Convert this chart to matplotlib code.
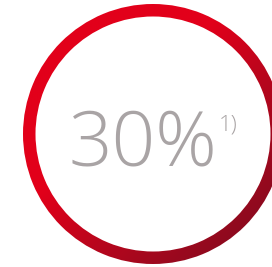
import numpy as np
import matplotlib
matplotlib.use("Agg")
import matplotlib.pyplot as plt
from matplotlib.patches import Annulus
from matplotlib.colors import LinearSegmentedColormap

# --- Data ---
value = [30]
value_label = ["30%"]
footnote = ["1)"]

# --- Style ---
W, H = 272, 267
CENTER = (153, 134)
R_OUT = 130
WIDTH = 12.5
RED_LIGHT = "#e2001a"
RED_DARK = "#8e0a1f"
TEXT_GREY = "#a9a4a5"

fig = plt.figure(figsize=(W / 100, H / 100), dpi=100)
ax = fig.add_axes([0, 0, 1, 1])
ax.set_xlim(0, W)
ax.set_ylim(H, 0)
ax.axis("off")

# diagonal gradient, light at top-left, dark at bottom-right
xx, yy = np.meshgrid(np.linspace(0, W, 400), np.linspace(0, H, 400))
s = (xx + yy) / np.sqrt(2)
s0 = (CENTER[0] + CENTER[1] - R_OUT * np.sqrt(2)) / np.sqrt(2)
s1 = (CENTER[0] + CENTER[1] + R_OUT * np.sqrt(2)) / np.sqrt(2)
t = np.clip((s - s0) / (s1 - s0), 0, 1)
cmap = LinearSegmentedColormap.from_list(
    "ring", [(0, RED_LIGHT), (0.35, RED_LIGHT), (0.65, "#b8061d"), (1, RED_DARK)], N=256)
img = ax.imshow(t, cmap=cmap, extent=(0, W, H, 0), vmin=0, vmax=1,
                interpolation="bilinear", zorder=1)

ring = Annulus(CENTER, R_OUT, WIDTH, facecolor="none", edgecolor="none")
ax.add_patch(ring)
img.set_clip_path(ring)

ax.text(143, 165, value_label[0], fontsize=55, color=TEXT_GREY,
        family="Open Sans", fontweight="light", ha="center", va="baseline")
ax.text(219, 130, footnote[0], fontsize=16, color=TEXT_GREY,
        family="Open Sans", fontweight="light", ha="left", va="baseline")

fig.savefig("out.png", dpi=100)
